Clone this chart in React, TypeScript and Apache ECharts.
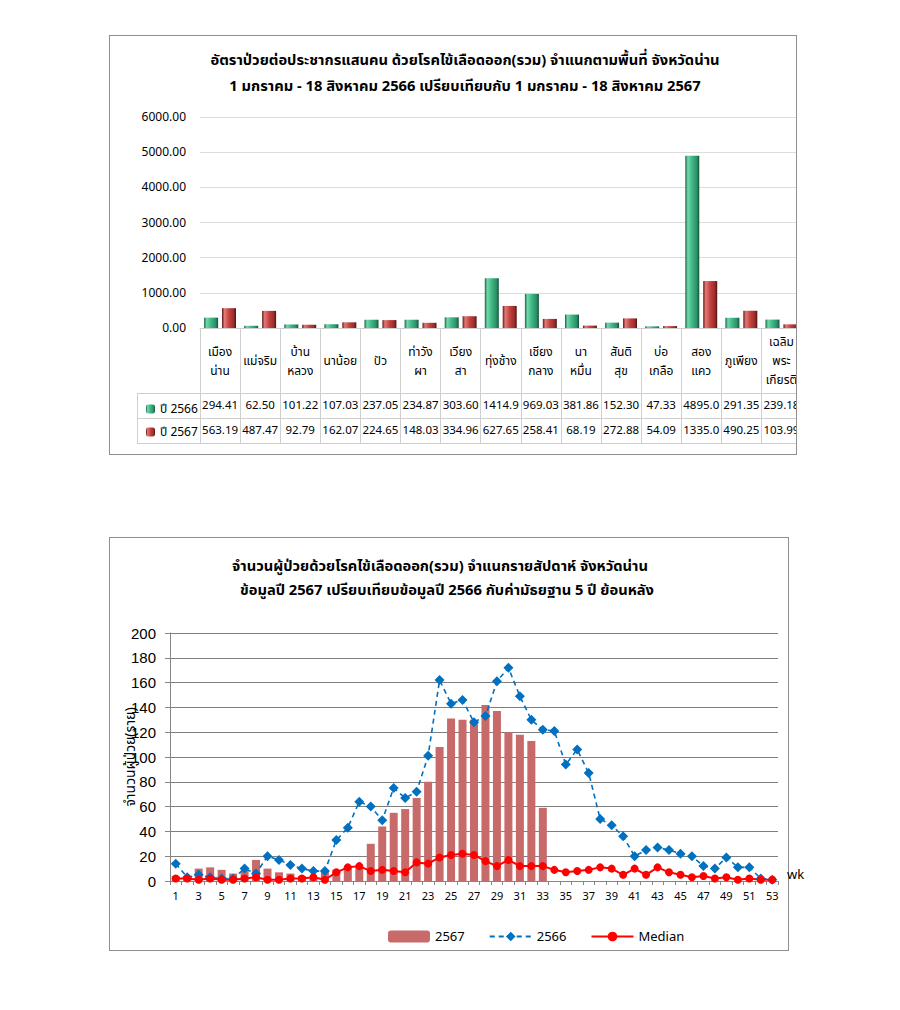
import React, { useEffect, useRef } from "react";
import * as echarts from "echarts";

const FONT = "Tahoma, 'Noto Sans Thai', 'Noto Sans', 'DejaVu Sans', sans-serif";

// ---------- Chart 1 data ----------
const title1a = "อัตราป่วยต่อประชากรแสนคน ด้วยโรคไข้เลือดออก(รวม) จำแนกตามพื้นที่ จังหวัดน่าน";
const title1b = "1 มกราคม - 18 สิงหาคม 2566 เปรียบเทียบกับ 1 มกราคม - 18 สิงหาคม 2567";
const districts = [
  "เมือง\nน่าน", "แม่จริม", "บ้าน\nหลวง", "นาน้อย", "ปัว", "ท่าวัง\nผา", "เวียง\nสา", "ทุ่งช้าง",
  "เชียง\nกลาง", "นา\nหมื่น", "สันติ\nสุข", "บ่อ\nเกลือ", "สอง\nแคว", "ภูเพียง", "เฉลิม\nพระ\nเกียรติ",
];
const rate2566 = [294.41, 62.5, 101.22, 107.03, 237.05, 234.87, 303.6, 1414.9, 969.03, 381.86, 152.3, 47.33, 4895.0, 291.35, 239.18];
const rate2567 = [563.19, 487.47, 92.79, 162.07, 224.65, 148.03, 334.96, 627.65, 258.41, 68.19, 272.88, 54.09, 1335.0, 490.25, 103.99];
const seriesNames1 = ["ปี 2566", "ปี 2567"];
const rateAxis = { min: 0, max: 6000, interval: 1000 };

// ---------- Chart 2 data ----------
const title2a = "จำนวนผู้ป่วยด้วยโรคไข้เลือดออก(รวม) จำแนกรายสัปดาห์ จังหวัดน่าน";
const title2b = "ข้อมูลปี 2567 เปรียบเทียบข้อมูลปี 2566 กับค่ามัธยฐาน 5 ปี ย้อนหลัง";
const weeks = [
  "1", "2", "3", "4", "5", "6", "7", "8", "9", "10", "11", "12", "13", "14", "15", "16", "17", "18",
  "19", "20", "21", "22", "23", "24", "25", "26", "27", "28", "29", "30", "31", "32", "33", "34", "35",
  "36", "37", "38", "39", "40", "41", "42", "43", "44", "45", "46", "47", "48", "49", "50", "51", "52", "53",
];
const cases2567 = [4, 2, 10, 11, 9, 6, 8, 17, 10, 7, 6, 4, 2, 9, 9, 12, 12, 30, 44, 55, 58, 67, 80, 108, 131, 130, 130, 142, 137, 120, 118, 113, 59];
const cases2566 = [14, 3, 5, 3, 2, 2, 10, 6, 20, 17, 13, 10, 8, 8, 33, 43, 64, 60, 49, 75, 67, 72, 101, 162, 143, 146, 128, 133, 161, 172, 149, 130, 122, 121, 94, 106, 87, 50, 45, 36, 20, 25, 27, 25, 22, 20, 12, 10, 19, 11, 11, 2, 1];
const median5y = [2, 2, 1, 2, 1, 1, 2, 3, 1, 1, 2, 2, 3, 1, 7, 11, 12, 8, 9, 8, 7, 15, 14, 19, 21, 22, 21, 16, 12, 17, 12, 12, 12, 9, 7, 8, 9, 11, 10, 5, 10, 5, 11, 7, 5, 3, 4, 2, 3, 1, 2, 1, 1];
const caseAxis = { min: 0, max: 200, interval: 20 };
const yName2 = "จำนวนผู้ป่วย(ราย)";
const xName2 = "wk";
const seriesNames2 = ["2567", "2566", "Median"];

const fmtRate = (v: number) => (v >= 1000 ? v.toFixed(1) : v.toFixed(2));

const bevel = (dark: string, light: string, mid: string, shade: string, edge: string) =>
  new echarts.graphic.LinearGradient(0, 0, 1, 0, [
    { offset: 0, color: dark },
    { offset: 0.18, color: light },
    { offset: 0.5, color: mid },
    { offset: 0.82, color: shade },
    { offset: 1, color: edge },
  ]);

function Chart1() {
  const ref = useRef<HTMLDivElement>(null);
  useEffect(() => {
    const chart = echarts.init(ref.current!, undefined, { renderer: "svg" });
    const g = { left: 90, top: 81, width: 601.5, height: 211 };
    const base = g.top + g.height;
    const rowH = 25;
    const headH = 65;
    const tableLine = "#cfcfcf";
    const labelLeft = 27;
    const mkRowAxis = (offset: number, values: number[] | null) => ({
      type: "category",
      data: districts,
      position: "bottom",
      offset,
      axisLine: { show: true, lineStyle: { color: tableLine } },
      axisTick: { show: false },
      axisLabel: values
        ? {
            interval: 0,
            margin: 12.5,
            verticalAlign: "middle",
            fontSize: 11.5,
            color: "#000",
            fontFamily: FONT,
            formatter: (_v: string, i: number) => fmtRate(values[i]),
          }
        : { show: false },
    });
    chart.setOption({
      animation: false,
      textStyle: { fontFamily: FONT },
      grid: { ...g, outerBoundsMode: "none" },
      legend: {
        orient: "vertical",
        left: 31,
        top: base + headH + 5,
        itemWidth: 9,
        itemHeight: 9,
        itemGap: 11,
        textStyle: { fontSize: 12, color: "#000", fontFamily: FONT },
        data: seriesNames1,
      },
      graphic: [
        { type: "text", x: 355, y: 24, style: { text: title1a, font: `bold 14.7px ${FONT}`, fill: "#000", textAlign: "center", textVerticalAlign: "middle" } },
        { type: "text", x: 355, y: 50, style: { text: title1b, font: `bold 14.7px ${FONT}`, fill: "#000", textAlign: "center", textVerticalAlign: "middle" } },
        ...[headH, headH + rowH, headH + 2 * rowH].map((o) => ({
          type: "line",
          shape: { x1: labelLeft, y1: base + o + 0.5, x2: g.left, y2: base + o + 0.5 },
          style: { stroke: tableLine, lineWidth: 1 },
        })),
        {
          type: "line",
          shape: { x1: labelLeft + 0.5, y1: base + headH, x2: labelLeft + 0.5, y2: base + headH + 2 * rowH },
          style: { stroke: tableLine, lineWidth: 1 },
        },
      ],
      xAxis: [
        {
          type: "category",
          data: districts,
          position: "bottom",
          axisLine: { show: true, lineStyle: { color: tableLine } },
          axisTick: { show: true, interval: 0, length: headH + 2 * rowH, lineStyle: { color: tableLine } },
          axisLabel: { interval: 0, margin: 33, verticalAlign: "middle", lineHeight: 19, fontSize: 12, color: "#000", fontFamily: FONT },
        },
        mkRowAxis(headH, rate2566),
        mkRowAxis(headH + rowH, rate2567),
        mkRowAxis(headH + 2 * rowH, null),
      ],
      yAxis: {
        type: "value",
        ...rateAxis,
        axisLine: { show: false },
        axisTick: { show: false },
        axisLabel: { formatter: (v: number) => v.toFixed(2), fontSize: 12, color: "#000", margin: 14, fontFamily: FONT },
        splitLine: { lineStyle: { color: "#dcdcdc" } },
      },
      series: [
        {
          type: "bar",
          name: seriesNames1[0],
          data: rate2566,
          barWidth: 14,
          barGap: "28%",
          itemStyle: { color: bevel("#1a6343", "#6fd9ab", "#3fb585", "#2b9168", "#145237") },
        },
        {
          type: "bar",
          name: seriesNames1[1],
          data: rate2567,
          barWidth: 14,
          itemStyle: { color: bevel("#5e1616", "#e57a76", "#c2423f", "#9c2e2c", "#4f1212") },
        },
      ],
    });
    return () => chart.dispose();
  }, []);
  return <div ref={ref} style={{ width: 700, height: 418 }} />;
}

function Chart2() {
  const ref = useRef<HTMLDivElement>(null);
  useEffect(() => {
    const chart = echarts.init(ref.current!, undefined, { renderer: "svg" });
    chart.setOption({
      animation: false,
      textStyle: { fontFamily: FONT },
      grid: { left: 60, top: 95, width: 608, height: 248, outerBoundsMode: "none" },
      legend: {
        left: 273,
        top: 387,
        itemWidth: 42,
        itemHeight: 12,
        itemGap: 24,
        textStyle: { fontSize: 13, color: "#000", fontFamily: FONT },
        data: seriesNames2,
      },
      graphic: [
        { type: "text", x: 330, y: 28, style: { text: title2a, font: `bold 14.7px ${FONT}`, fill: "#000", textAlign: "center", textVerticalAlign: "middle" } },
        { type: "text", x: 337, y: 52, style: { text: title2b, font: `bold 14.7px ${FONT}`, fill: "#000", textAlign: "center", textVerticalAlign: "middle" } },
      ],
      xAxis: {
        type: "category",
        data: weeks,
        boundaryGap: true,
        name: xName2,
        nameLocation: "end",
        nameGap: 9,
        nameTextStyle: { fontSize: 13, color: "#000", verticalAlign: "bottom", fontFamily: FONT },
        axisLine: { lineStyle: { color: "#868686" } },
        axisTick: { show: true, interval: 0, length: 4, lineStyle: { color: "#868686" } },
        axisLabel: { interval: 1, fontSize: 11, color: "#000", margin: 10, fontFamily: FONT },
      },
      yAxis: {
        type: "value",
        ...caseAxis,
        name: yName2,
        nameLocation: "middle",
        nameRotate: 90,
        nameGap: 33,
        nameMoveOverlap: false,
        nameTextStyle: { fontSize: 14, color: "#000", fontFamily: FONT },
        axisLine: { show: true, lineStyle: { color: "#868686" } },
        axisTick: { show: true, length: 5, lineStyle: { color: "#868686" } },
        axisLabel: { fontSize: 15, color: "#000", margin: 14, fontFamily: "Arial, 'Liberation Sans', sans-serif" },
        splitLine: { lineStyle: { color: "#7f7f7f" } },
      },
      series: [
        {
          type: "bar",
          name: seriesNames2[0],
          data: cases2567,
          barWidth: 8,
          itemStyle: { color: "#c96a6a" },
        },
        {
          type: "line",
          name: seriesNames2[1],
          data: cases2566,
          symbol: "diamond",
          symbolSize: 10,
          showAllSymbol: true,
          lineStyle: { color: "#0070c0", width: 1.6, type: [5, 4] },
          itemStyle: { color: "#0070c0" },
        },
        {
          type: "line",
          name: seriesNames2[2],
          data: median5y,
          symbol: "circle",
          symbolSize: 8,
          showAllSymbol: true,
          lineStyle: { color: "#ff0000", width: 2 },
          itemStyle: { color: "#ff0000" },
        },
      ],
    });
    return () => chart.dispose();
  }, []);
  return <div ref={ref} style={{ width: 720, height: 412 }} />;
}

export default function App() {
  return (
    <div style={{ position: "absolute", left: 0, top: 0, width: 900, height: 1010, background: "#fff" }}>
      <div
        style={{
          position: "absolute",
          left: 109,
          top: 35,
          width: 686,
          height: 418,
          border: "1px solid #8f8f8f",
          overflow: "hidden",
        }}
      >
        <Chart1 />
      </div>
      <div
        style={{
          position: "absolute",
          left: 109,
          top: 537,
          width: 678,
          height: 412,
          border: "1px solid #8f8f8f",
        }}
      >
        <Chart2 />
      </div>
    </div>
  );
}
